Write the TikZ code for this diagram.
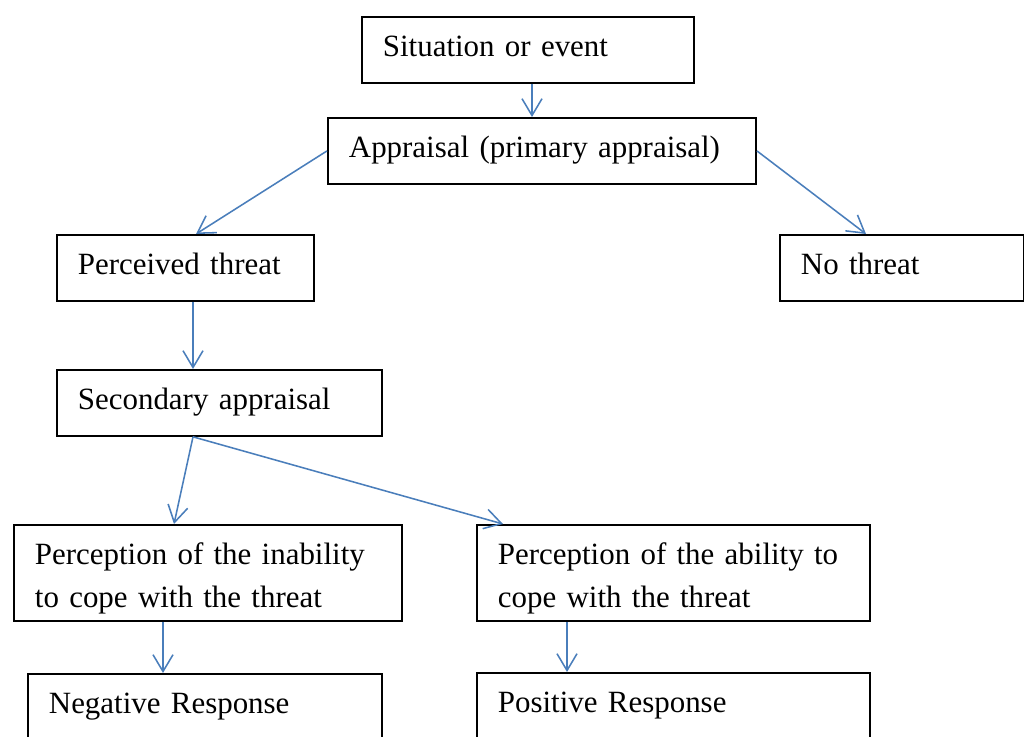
\documentclass[tikz,border=0pt]{standalone}
\usepackage{fontspec}
\setmainfont{Liberation Serif}
\usepackage{xcolor}
\usepackage{tikz}
\usetikzlibrary{arrows.meta}
\definecolor{ink}{HTML}{000000}
\definecolor{flow}{HTML}{4A7EBB}
\tikzset{
  stage/.style={draw=ink, line width=1.3pt, anchor=north west, align=left,
    inner xsep=0.525cm, inner ysep=0pt, text height=1.0cm, text depth=0.65cm,
    font=\fontsize{22}{30}\selectfont},
  stage2/.style={stage, text depth=1.4cm},
  link/.style={draw=flow, line width=1.1pt,
    -{Straight Barb[length=0.42cm,width=0.5cm,line width=1.1pt]}},
}
\begin{document}
\begin{tikzpicture}[x=0.025cm, y=-0.025cm]
  \useasboundingbox (0,0) rectangle (1024,736);

  \node[stage, text width=7.25cm]  (sit)   at (361,16)  {Situation or event};
  \node[stage, text width=9.65cm]  (app)   at (327,117) {Appraisal (primary appraisal)};
  \node[stage, text width=5.375cm] (thr)   at (56,234)  {Perceived threat};
  \node[stage, text width=5.05cm]  (nothr) at (779,234) {No threat};
  \node[stage, text width=7.075cm] (sec)   at (56,369)  {Secondary appraisal};
  \node[stage2, text width=8.65cm] (inab)  at (13,524)  {Perception of the inability\\to cope with the threat};
  \node[stage2, text width=8.775cm] (ab)   at (476,524) {Perception of the ability to\\cope with the threat};
  \node[stage, text width=7.8cm]   (neg)   at (27,673)  {Negative Response};
  \node[stage, text width=8.775cm] (pos)   at (476,672) {Positive Response};

  % connectors
  \draw[link] (sit.south -| 532,0) -- (app.north -| 532,0);
  \draw[link] (app.west) -- (thr.north -| 196,0);
  \draw[link] (app.east) -- (nothr.north -| 866,0);
  \draw[link] (thr.south -| 193,0) -- (sec.north -| 193,0);
  \draw[link] (sec.south -| 193,0) -- (inab.north -| 174,0);
  \draw[link] (sec.south -| 193,0) -- (ab.north -| 503,0);
  \draw[link] (inab.south -| 163,0) -- (neg.north -| 163,0);
  \draw[link] (ab.south -| 567,0) -- (pos.north -| 567,0);
\end{tikzpicture}
\end{document}
